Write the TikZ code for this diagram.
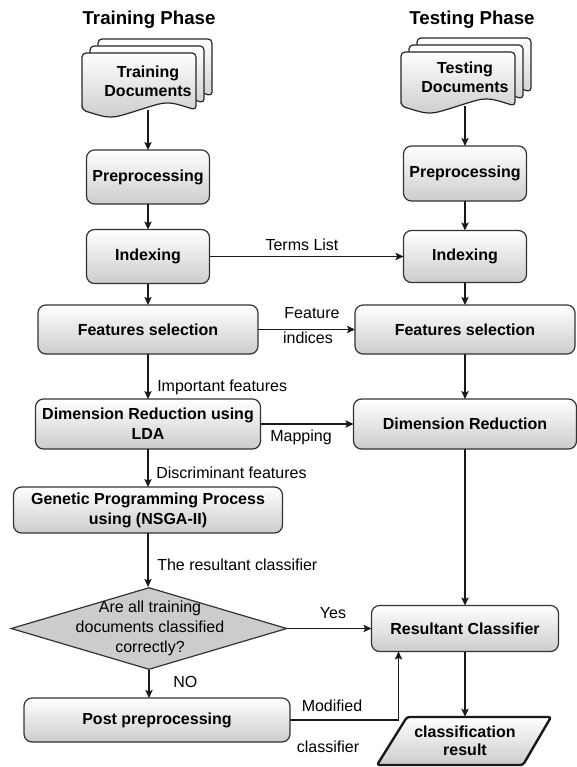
\documentclass[tikz,border=0pt]{standalone}
\usepackage{fontspec}
\setmainfont{Liberation Sans}
\usetikzlibrary{arrows.meta,shapes.geometric,calc}
\newcommand\docpage[4]{%
  \draw[docst] (#1,#4) -- (#1,#2) -- ({#1+#3},#2) -- ({#1+#3},#4)
    .. controls ({#1+0.75*#3},{#4-9}) .. ({#1+0.5*#3},#4)
    .. controls ({#1+0.25*#3},{#4+9}) .. (#1,#4) -- cycle;}
\tikzset{
  box/.style 2 args={draw=black!80, line width=0.9pt, rounded corners=6pt,
    top color=white, bottom color=black!20, minimum width=#1*0.75pt,
    minimum height=#2*0.75pt, inner sep=1pt, outer sep=0pt, align=center,
    font=\bfseries\fontsize{12}{15}\selectfont},
  docst/.style={draw=black!85, line width=0.9pt, rounded corners=3pt,
    top color=white, bottom color=black!20},
  doctext/.style={align=center, inner sep=0pt, minimum width=130*0.75pt,
    minimum height=58*0.75pt, font=\bfseries\fontsize{12}{14}\selectfont},
  lbl/.style={font=\fontsize{12}{15}\selectfont, inner sep=0pt},
  ttl/.style={font=\bfseries\fontsize{14}{17}\selectfont, inner sep=0pt},
  arr/.style={-{Stealth[length=6pt,width=5.5pt,inset=1.2pt]}, line width=0.9pt, black!90},
  dia/.style={diamond, draw=black!80, line width=0.9pt, fill=black!20,
    minimum width=276*0.75pt, minimum height=82*0.75pt, inner sep=0pt},
  para/.style={draw=black!90, line width=1.8pt, rounded corners=2pt,
    top color=white, bottom color=black!20}
}
\begin{document}
\begin{tikzpicture}[x=0.75pt, y=-0.75pt]
\useasboundingbox (0,0) rectangle (576,767);

% titles
\node[ttl] (t1) at (149,20) {Training Phase};
\node[ttl] (t2) at (472,20) {Testing Phase};

% document stacks
\docpage{98}{39}{114}{96}
\docpage{90}{46}{114}{103}
\docpage{82}{53}{114}{110}
\node[doctext] (trdoc) at (148,81) {Training\\Documents};

\docpage{417}{38}{114}{92}
\docpage{409}{45}{114}{99}
\docpage{401}{52}{114}{106}
\node[doctext] (tedoc) at (465,77) {Testing\\Documents};

% left column
\node[box={123}{54}] (pre1) at (148,177) {Preprocessing};
\node[box={123}{54}] (idx1) at (148,256.5) {Indexing};
\node[box={220}{49}] (fs1) at (148,329.5) {Features selection};
\node[box={225}{50}] (dr1) at (148,424) {Dimension Reduction using\\LDA};
\node[box={269}{46}] (gp) at (148,510) {Genetic Programming Process\\using (NSGA-II)};
\node[dia] (dec) at (149,628.5) {};
\node[lbl, align=center] (dect) at (150,628) {Are all training\\documents classified\\correctly?};
\node[box={266}{44}] (pp) at (157,720) {Post preprocessing};

% right column
\node[box={123}{55}] (pre2) at (465,173.5) {Preprocessing};
\node[box={123}{52}] (idx2) at (465,256.5) {Indexing};
\node[box={220}{49}] (fs2) at (465,329.5) {Features selection};
\node[box={223}{50}] (dr2) at (465,424) {Dimension Reduction};
\node[box={187}{46}] (rc) at (465,628.5) {Resultant Classifier};
\draw[para] (377,765) -- (407,717) -- (551,717) -- (523,765) -- cycle;
\node[align=center, inner sep=0pt, minimum height=48*0.75pt,
  font=\bfseries\fontsize{12}{13.5}\selectfont] (res) at (465,741) {classification\\result};

% vertical connectors, left
\draw[arr] (trdoc.south) -- (trdoc.south |- pre1.north);
\draw[arr] (pre1.south) -- (idx1.north);
\draw[arr] (idx1.south) -- (fs1.north);
\draw[arr] (fs1.south) -- (dr1.north);
\draw[arr] (dr1.south) -- (gp.north);
\draw[arr] (gp.south) -- (gp.south |- dec.north);
\draw[arr] (dec.south) -- (dec.south |- pp.north);

% vertical connectors, right
\draw[arr] (tedoc.south) -- (pre2.north);
\draw[arr] (pre2.south) -- (idx2.north);
\draw[arr] (idx2.south) -- (fs2.north);
\draw[arr] (fs2.south) -- (dr2.north);
\draw[arr] (dr2.south) -- (rc.north);
\draw[arr] (rc.south) -- (res.north);

% horizontal connectors
\draw[arr] (idx1.east) -- (idx2.west);
\draw[arr] (fs1.east) -- (fs2.west);
\draw[arr] (dr1.east) -- (dr2.west);
\draw[arr] (dec.east) -- (rc.west);
\draw[arr] (pp.east) -| ($(rc.south west)+(27,0)$);

% labels
\node[lbl] (l1) at (302,245) {Terms List};
\node[lbl] (l2) at (312,313) {Feature};
\node[lbl] (l3) at (308,338) {indices};
\node[lbl, anchor=west] (l4) at (157,387) {Important features};
\node[lbl] (l5) at (301,437) {Mapping};
\node[lbl, anchor=west] (l6) at (156,473) {Discriminant features};
\node[lbl, anchor=west] (l7) at (157,565) {The resultant classifier};
\node[lbl] (l8) at (333,613) {Yes};
\node[lbl, anchor=west] (l9) at (173,682) {NO};
\node[lbl] (l10) at (332,706) {Modified};
\node[lbl] (l11) at (328,747) {classifier};
\end{tikzpicture}
\end{document}
